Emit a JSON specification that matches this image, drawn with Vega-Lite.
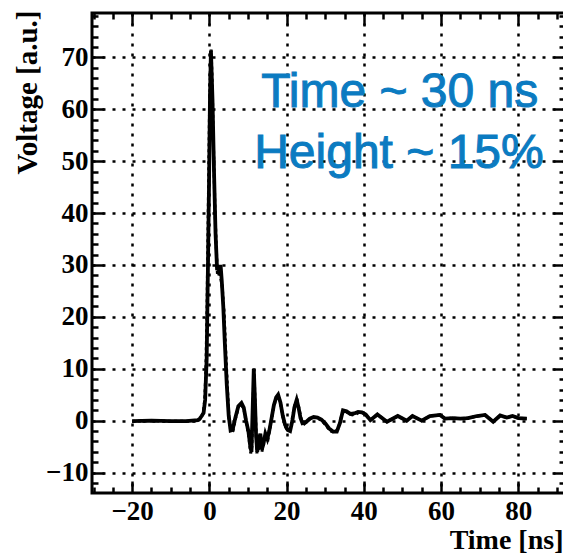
{
  "$schema": "https://vega.github.io/schema/vega-lite/v6.json",
  "autosize": {"type": "none"},
  "padding": {"left": 92, "top": 13, "right": 0, "bottom": 60},
  "width": 473,
  "height": 480,
  "background": "white",
  "view": {"stroke": "black", "strokeWidth": 3},
  "config": {
    "axis": {
      "labelFont": "Liberation Serif",
      "labelFontWeight": "bold",
      "labelFontSize": 27,
      "labelColor": "black",
      "titleFont": "Liberation Serif",
      "titleFontWeight": "bold",
      "titleFontSize": 28,
      "titleColor": "black",
      "tickColor": "black",
      "tickWidth": 2.5,
      "domain": false,
      "gridColor": "black",
      "gridOpacity": 1,
      "gridWidth": 2.5,
      "gridDash": [3, 7]
    }
  },
  "datasets": {
    "solid": [
      {"t": -20, "v": -0.1}, {"t": -15, "v": 0.0}, {"t": -10, "v": -0.1}, {"t": -6, "v": -0.1},
      {"t": -3, "v": 0.1}, {"t": -2.5, "v": 0.4}, {"t": -2, "v": 0.9}, {"t": -1.5, "v": 1.5},
      {"t": -1.1, "v": 4}, {"t": -0.7, "v": 12}, {"t": -0.4, "v": 28}, {"t": -0.1, "v": 45},
      {"t": 0.15, "v": 62}, {"t": 0.4, "v": 71.3}, {"t": 0.8, "v": 62}, {"t": 1.2, "v": 48},
      {"t": 1.6, "v": 36}, {"t": 2.0, "v": 29}, {"t": 2.3, "v": 30}, {"t": 2.6, "v": 28},
      {"t": 2.9, "v": 30}, {"t": 3.2, "v": 27}, {"t": 3.6, "v": 22}, {"t": 4.0, "v": 15},
      {"t": 4.5, "v": 7}, {"t": 5.0, "v": 1}, {"t": 5.5, "v": -1.9}, {"t": 6.0, "v": -1.8},
      {"t": 6.7, "v": 0.5}, {"t": 7.5, "v": 2.8}, {"t": 8.3, "v": 3.4}, {"t": 8.9, "v": 2.5},
      {"t": 9.5, "v": 0}, {"t": 10.1, "v": -2}, {"t": 10.6, "v": -5}, {"t": 10.9, "v": -6},
      {"t": 11.2, "v": 2}, {"t": 11.5, "v": 10}, {"t": 11.8, "v": 4}, {"t": 12.1, "v": -3},
      {"t": 12.4, "v": -6}, {"t": 12.8, "v": -3.5}, {"t": 13.2, "v": -2.5}, {"t": 13.6, "v": -5.5},
      {"t": 14.0, "v": -4.5}, {"t": 14.5, "v": -2.5}, {"t": 15.0, "v": -3.5}, {"t": 15.5, "v": -2},
      {"t": 16.0, "v": 0}, {"t": 16.7, "v": 3}, {"t": 17.3, "v": 4.5}, {"t": 17.8, "v": 5},
      {"t": 18.4, "v": 3.5}, {"t": 19.0, "v": 1}, {"t": 19.6, "v": -0.8}, {"t": 20.3, "v": -1.8},
      {"t": 20.9, "v": -2}, {"t": 21.5, "v": 0}, {"t": 22.0, "v": 2.5}, {"t": 22.6, "v": 4},
      {"t": 23.1, "v": 2.5}, {"t": 23.6, "v": 0.5}, {"t": 24.1, "v": -0.5}, {"t": 25, "v": -0.3},
      {"t": 26, "v": 0.4}, {"t": 27, "v": 0.7}, {"t": 28, "v": 0.6}, {"t": 29, "v": 0.2},
      {"t": 30, "v": -0.5}, {"t": 31, "v": -1.5}, {"t": 32, "v": -2.1}, {"t": 33, "v": -2.1},
      {"t": 33.8, "v": -0.5}, {"t": 34.6, "v": 2}, {"t": 35.5, "v": 1.8}, {"t": 36.5, "v": 1.3},
      {"t": 37.5, "v": 1.4}, {"t": 38.5, "v": 1.7}, {"t": 39.5, "v": 1.6}, {"t": 40.5, "v": 1.2},
      {"t": 41.7, "v": 0.1}, {"t": 43.5, "v": 1.2}, {"t": 46, "v": -0.2}, {"t": 48.8, "v": 0.9},
      {"t": 51.1, "v": 0.0}, {"t": 52.6, "v": 0.9}, {"t": 55, "v": 0.0}, {"t": 57.1, "v": 0.9},
      {"t": 59.7, "v": 1.1}, {"t": 61, "v": 0.4}, {"t": 63, "v": 0.5}, {"t": 65, "v": 0.4},
      {"t": 67, "v": 0.5}, {"t": 69.3, "v": 0.9}, {"t": 71.4, "v": 1.1}, {"t": 73.5, "v": -0.2},
      {"t": 75.3, "v": 1.0}, {"t": 77, "v": 0.6}, {"t": 78.5, "v": 0.9}, {"t": 80, "v": 0.5},
      {"t": 82.2, "v": 0.4}
    ],
    "dots": [
      {"t": -20, "v": -0.1}, {"t": -15, "v": 0.0}, {"t": -10, "v": -0.1}, {"t": -5, "v": -0.1},
      {"t": -3, "v": 0.0}, {"t": -2.5, "v": 0.3}, {"t": -2, "v": 0.8}, {"t": -1.6, "v": 1.5},
      {"t": -1.2, "v": 4}, {"t": -0.9, "v": 10}, {"t": -0.6, "v": 22}, {"t": -0.3, "v": 40},
      {"t": 0.0, "v": 58}, {"t": 0.25, "v": 68}, {"t": 0.45, "v": 71.5}, {"t": 0.7, "v": 66},
      {"t": 1.0, "v": 55}, {"t": 1.4, "v": 42}, {"t": 1.8, "v": 33}, {"t": 2.1, "v": 28},
      {"t": 2.4, "v": 29.5}, {"t": 2.8, "v": 28}, {"t": 3.3, "v": 26}, {"t": 3.8, "v": 21},
      {"t": 4.2, "v": 14}, {"t": 4.7, "v": 6}, {"t": 5.1, "v": 0}, {"t": 5.6, "v": -2.2},
      {"t": 6.1, "v": -2}, {"t": 6.8, "v": 0.5}, {"t": 7.6, "v": 2.8}, {"t": 8.3, "v": 3.2},
      {"t": 9.0, "v": 2}, {"t": 9.6, "v": -0.5}, {"t": 10.2, "v": -3}, {"t": 10.7, "v": -6.3},
      {"t": 11.0, "v": -5}, {"t": 11.3, "v": 3}, {"t": 11.55, "v": 9.8}, {"t": 11.9, "v": 2},
      {"t": 12.3, "v": -6.3}, {"t": 12.7, "v": -4}, {"t": 13.2, "v": -5.5}, {"t": 13.6, "v": -6},
      {"t": 14.1, "v": -4}, {"t": 14.6, "v": -3}, {"t": 15.2, "v": -3.5}, {"t": 15.8, "v": -1},
      {"t": 16.5, "v": 2}, {"t": 17.1, "v": 4}, {"t": 17.7, "v": 4.8}, {"t": 18.3, "v": 3.8},
      {"t": 19.0, "v": 0.8}, {"t": 19.7, "v": -1.2}, {"t": 20.4, "v": -2}, {"t": 21.0, "v": -1.5},
      {"t": 21.6, "v": 1}, {"t": 22.3, "v": 3.5}, {"t": 22.8, "v": 3.8}, {"t": 23.3, "v": 2},
      {"t": 23.9, "v": 0}, {"t": 24.6, "v": -0.6}, {"t": 25.5, "v": 0}, {"t": 26.5, "v": 0.6},
      {"t": 27.5, "v": 0.6}, {"t": 28.5, "v": 0.3}, {"t": 29.5, "v": -0.3}, {"t": 30.5, "v": -1.2},
      {"t": 31.5, "v": -2}, {"t": 32.5, "v": -2.2}, {"t": 33.4, "v": -1.5}, {"t": 34.2, "v": 0.8},
      {"t": 34.8, "v": 2}, {"t": 35.8, "v": 1.6}, {"t": 37, "v": 1.1}, {"t": 38, "v": 1.3},
      {"t": 39, "v": 1.7}, {"t": 40, "v": 1.5}, {"t": 41.7, "v": 0.1}, {"t": 43.5, "v": 1.2},
      {"t": 46, "v": -0.2}, {"t": 48.8, "v": 0.9}, {"t": 51.1, "v": 0.0}, {"t": 52.6, "v": 0.9},
      {"t": 55, "v": 0.0}, {"t": 57.1, "v": 0.9}, {"t": 59.7, "v": 1.1}, {"t": 61, "v": 0.4},
      {"t": 63, "v": 0.5}, {"t": 65, "v": 0.4}, {"t": 67, "v": 0.5}, {"t": 69.3, "v": 0.9},
      {"t": 71.4, "v": 1.1}, {"t": 73.5, "v": -0.2}, {"t": 75.3, "v": 1.0}, {"t": 77, "v": 0.6},
      {"t": 78.5, "v": 0.9}, {"t": 80, "v": 0.5}, {"t": 82.2, "v": 0.4}
    ],
    "note1": [{"t": 49.3, "v": 60.4, "label": "Time ~ 30 ns"}],
    "note2": [{"t": 49.1, "v": 48.6, "label": "Height ~ 15%"}]
  },
  "resolve": {"axis": {"x": "independent", "y": "independent"}},
  "layer": [
    {
      "data": {"name": "solid"},
      "mark": {"type": "line", "color": "black", "strokeWidth": 3.8, "clip": true},
      "encoding": {
        "x": {
          "field": "t", "type": "quantitative",
          "scale": {"domain": [-30.4, 92.1], "nice": false, "zero": false},
          "axis": {
            "orient": "bottom", "values": [-20, 0, 20, 40, 60, 80], "grid": true,
            "tickSize": -12, "labelPadding": 17, "labelBaseline": "top",
            "title": "Time [ns]", "titleAnchor": "end", "titleAlign": "right",
            "titleBaseline": "alphabetic", "titleX": 471, "titleY": 55
          }
        },
        "y": {
          "field": "v", "type": "quantitative",
          "scale": {"domain": [-13.93, 78.54], "nice": false, "zero": false},
          "axis": {
            "orient": "left", "values": [-10, 0, 10, 20, 30, 40, 50, 60, 70], "grid": true,
            "tickSize": -12, "labelPadding": 16,
            "title": "Voltage [a.u.]", "titleFontSize": 29, "titleAnchor": "end", "titleAlign": "right",
            "titleAngle": -90, "titleBaseline": "alphabetic", "titleX": -56, "titleY": -3
          }
        }
      }
    },
    {
      "data": {"name": "dots"},
      "mark": {"type": "line", "color": "black", "strokeWidth": 3, "strokeDash": [3, 3], "clip": true},
      "encoding": {
        "x": {
          "field": "t", "type": "quantitative",
          "axis": {
            "orient": "bottom", "values": [-30, -25, -15, -10, -5, 5, 10, 15, 25, 30, 35, 45, 50, 55, 65, 70, 75, 85, 90],
            "grid": false, "labels": false, "tickSize": -6, "title": null
          }
        },
        "y": {
          "field": "v", "type": "quantitative",
          "axis": {
            "orient": "left", "values": [-12, -8, -6, -4, -2, 2, 4, 6, 8, 12, 14, 16, 18, 22, 24, 26, 28, 32, 34, 36, 38, 42, 44, 46, 48, 52, 54, 56, 58, 62, 64, 66, 68, 72, 74, 76, 78],
            "grid": false, "labels": false, "tickSize": -6, "title": null
          }
        }
      }
    },
    {
      "data": {"name": "note1"},
      "mark": {"type": "text", "font": "Liberation Sans", "fontSize": 48, "color": "#0b7bc1", "stroke": "#0b7bc1", "strokeWidth": 1, "align": "center", "baseline": "alphabetic"},
      "encoding": {
        "x": {
          "field": "t", "type": "quantitative",
          "axis": {"orient": "top", "values": [-20, 0, 20, 40, 60, 80], "grid": false, "labels": false, "tickSize": -12, "title": null}
        },
        "y": {
          "field": "v", "type": "quantitative",
          "axis": {"orient": "right", "values": [-10, 0, 10, 20, 30, 40, 50, 60, 70], "grid": false, "labels": false, "tickSize": -12, "title": null}
        },
        "text": {"field": "label"}
      }
    },
    {
      "data": {"name": "note2"},
      "mark": {"type": "text", "font": "Liberation Sans", "fontSize": 48, "color": "#0b7bc1", "stroke": "#0b7bc1", "strokeWidth": 1, "align": "center", "baseline": "alphabetic"},
      "encoding": {
        "x": {
          "field": "t", "type": "quantitative",
          "axis": {"orient": "top", "values": [-30, -25, -15, -10, -5, 5, 10, 15, 25, 30, 35, 45, 50, 55, 65, 70, 75, 85, 90], "grid": false, "labels": false, "tickSize": -6, "title": null}
        },
        "y": {
          "field": "v", "type": "quantitative",
          "axis": {"orient": "right", "values": [-12, -8, -6, -4, -2, 2, 4, 6, 8, 12, 14, 16, 18, 22, 24, 26, 28, 32, 34, 36, 38, 42, 44, 46, 48, 52, 54, 56, 58, 62, 64, 66, 68, 72, 74, 76, 78], "grid": false, "labels": false, "tickSize": -6, "title": null}
        },
        "text": {"field": "label"}
      }
    }
  ]
}
